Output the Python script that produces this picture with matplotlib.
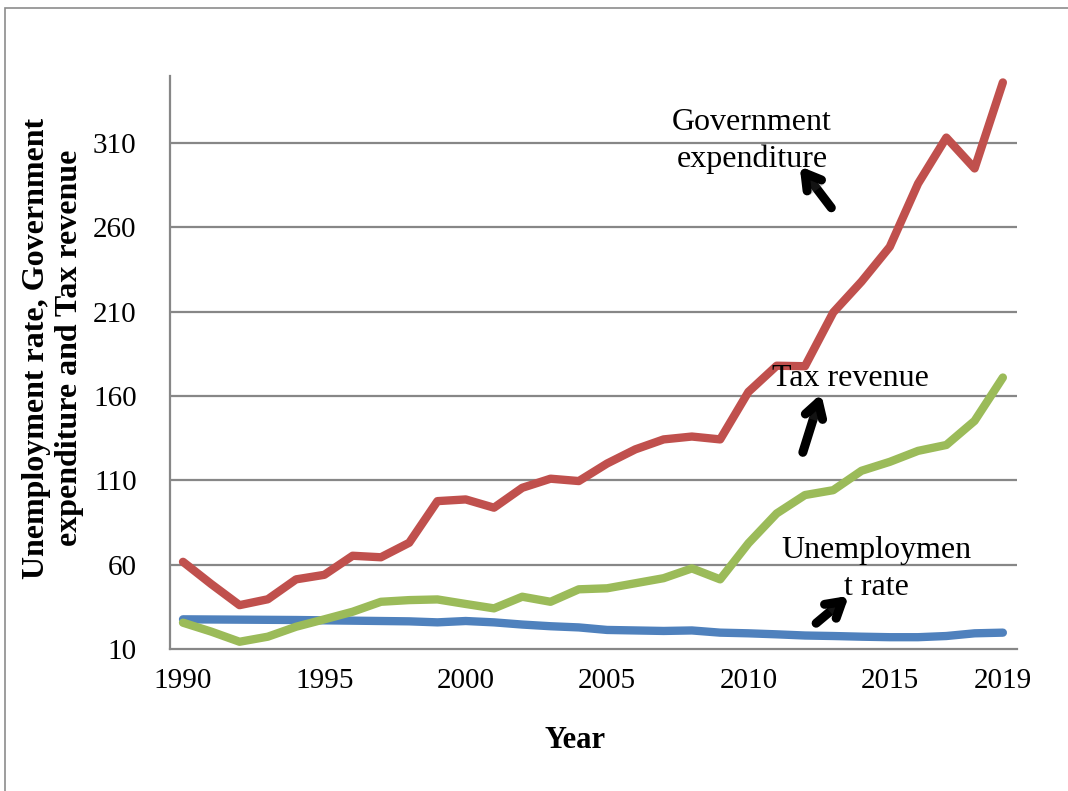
import matplotlib
matplotlib.use("Agg")
import matplotlib.pyplot as plt
import matplotlib.patheffects as pe
from matplotlib.patches import Rectangle

# Datos
years = list(range(1990, 2020))
unemployment = [27.6, 27.5, 27.4, 27.3, 27.2, 27.0, 26.8, 26.6, 26.4, 25.8,
                26.6, 25.8, 24.5, 23.5, 22.8, 21.3, 21.0, 20.7, 21.0, 19.7,
                19.3, 18.7, 18.0, 17.7, 17.3, 17.0, 17.0, 17.7, 19.3, 19.7]
gov_expenditure = [61.7, 48.5, 36.0, 39.5, 51.3, 54.0, 65.3, 64.4, 73.0, 97.7,
                   98.7, 93.8, 105.6, 111.0, 109.6, 120.0, 128.4, 134.3, 136.0, 134.3,
                   162.5, 178.0, 177.7, 209.6, 227.9, 248.5, 286.0, 313.3, 295.0, 346.0]
tax_revenue = [25.6, 20.3, 14.3, 17.3, 23.2, 27.6, 32.1, 38.0, 39.0, 39.4,
               36.7, 34.1, 41.0, 38.0, 45.4, 46.0, 49.0, 52.0, 57.8, 51.3,
               72.7, 90.4, 101.3, 104.2, 115.7, 121.0, 127.5, 131.0, 145.3, 171.0]
y_ticks = [10, 60, 110, 160, 210, 260, 310]
x_ticks = [1990, 1995, 2000, 2005, 2010, 2015, 2019]

W, H = 1068, 791
serif = ["Liberation Serif", "DejaVu Serif"]


def px(x, y):
    # pixeles de la imagen -> fracción de figura
    return (x / W, 1 - y / H)


fig = plt.figure(figsize=(W / 100, H / 100), dpi=100)
ax = fig.add_axes([170 / W, 1 - 649 / H, (1017 - 170) / W, (649 - 75.7) / H])

# Marco exterior
fig.patches.append(Rectangle(px(5, 900), 2, (900 - 8) / H, transform=fig.transFigure,
                             fill=False, edgecolor="#8c8c8c", linewidth=1.2))

grid_c = "#878787"
for t in y_ticks[1:]:
    ax.axhline(t, color=grid_c, linewidth=1.6, zorder=1)

lw = 6.0
ax.plot(years, unemployment, color="#4F81BD", linewidth=lw, solid_capstyle="round",
        solid_joinstyle="round", zorder=3)
ax.plot(years, gov_expenditure, color="#C0504D", linewidth=lw, solid_capstyle="round",
        solid_joinstyle="round", zorder=4)
ax.plot(years, tax_revenue, color="#9BBB59", linewidth=lw, solid_capstyle="round",
        solid_joinstyle="round", zorder=5)

ax.set_xlim(1989.54, 2019.5)
ax.set_ylim(10, 350)
ax.set_xticks(x_ticks)
ax.set_yticks(y_ticks)
ax.tick_params(length=0, labelsize=21)
ax.tick_params(axis="y", pad=24)
ax.tick_params(axis="x", pad=14)
for lab in ax.get_xticklabels() + ax.get_yticklabels():
    lab.set_fontfamily(serif)

for s in ["top", "right"]:
    ax.spines[s].set_visible(False)
for s in ["left", "bottom"]:
    ax.spines[s].set_color(grid_c)
    ax.spines[s].set_linewidth(1.6)

# Etiquetas de ejes
fig.text(*px(575, 740), "Year", ha="center", va="center", fontsize=22,
         fontweight="bold", family=serif)
fig.text(*px(53, 348), "Unemployment rate, Government\nexpenditure and Tax revenue",
         ha="center", va="center", rotation=90, fontsize=23, fontweight="bold",
         family=serif, linespacing=1.2)

# Anotaciones
fig.text(*px(752, 141), "Government\nexpenditure", ha="center", va="center",
         fontsize=23, family=serif, linespacing=1.35)
fig.text(*px(850, 378), "Tax revenue", ha="center", va="center", fontsize=23,
         family=serif)
fig.text(*px(876, 569), "Unemploymen\nt rate", ha="center", va="center",
         fontsize=23, family=serif, linespacing=1.35)

arrow = dict(arrowstyle="->,head_length=1.1,head_width=0.65", color="black",
             linewidth=6.5, capstyle="round", joinstyle="round",
             path_effects=[pe.SimplePatchShadow(offset=(2, -3), alpha=0.25), pe.Normal()])
for tail, tip in [((833, 210), (798, 164)),
                  ((802, 455), (822, 391)),
                  ((814, 625), (851, 594))]:
    fig.add_artist(plt.matplotlib.text.Annotation(
        "", xy=px(*tip), xytext=px(*tail), xycoords="figure fraction",
        textcoords="figure fraction", arrowprops=arrow))

fig.savefig("out.png", dpi=100)
